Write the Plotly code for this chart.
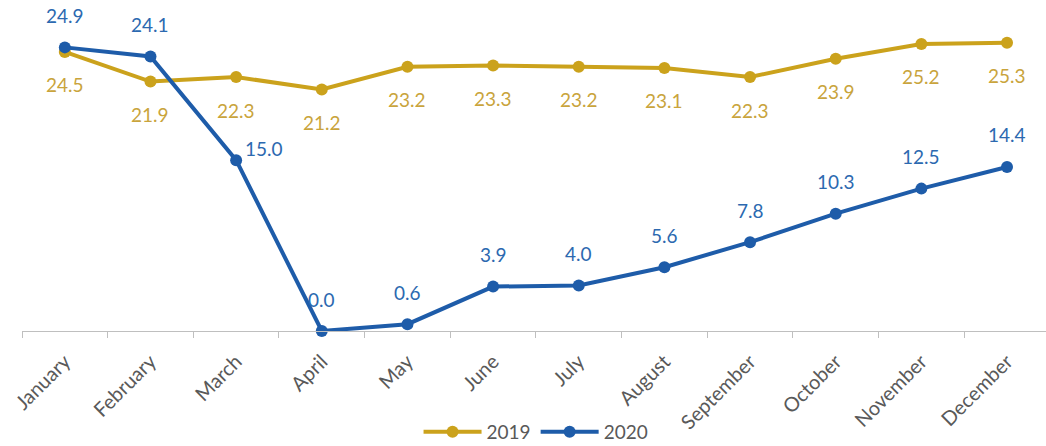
import plotly.graph_objects as go

months = ["January", "February", "March", "April", "May", "June", "July",
          "August", "September", "October", "November", "December"]
values_2019 = [24.5, 21.9, 22.3, 21.2, 23.2, 23.3, 23.2, 23.1, 22.3, 23.9, 25.2, 25.3]
values_2020 = [24.9, 24.1, 15.0, 0.0, 0.6, 3.9, 4.0, 5.6, 7.8, 10.3, 12.5, 14.4]

GOLD = "#CBA21C"
BLUE = "#1E5CA9"
GOLD_TXT = "#C9A43C"
BLUE_TXT = "#2C69B0"
FONT = "Lato"

fig = go.Figure()
fig.add_trace(go.Scatter(
    x=months, y=values_2019, name="2019", mode="lines+markers",
    line=dict(color=GOLD, width=4), marker=dict(size=12, color=GOLD),
    cliponaxis=False,
))
fig.add_trace(go.Scatter(
    x=months, y=values_2020, name="2020", mode="lines+markers",
    line=dict(color=BLUE, width=4), marker=dict(size=12, color=BLUE),
    cliponaxis=False,
))

# value labels: 2019 below its points, 2020 above
for i, (m, v) in enumerate(zip(months, values_2019)):
    fig.add_annotation(x=m, y=v, text=f"{v:.1f}", showarrow=False,
                       yshift=-33, font=dict(family=FONT, size=19, color=GOLD_TXT))
for i, (m, v) in enumerate(zip(months, values_2020)):
    dx, dy = (28, 12) if i == 2 else (0, 32)
    fig.add_annotation(x=m, y=v, text=f"{v:.1f}", showarrow=False,
                       xshift=dx, yshift=dy,
                       font=dict(family=FONT, size=19, color=BLUE_TXT))

fig.update_layout(
    width=1046, height=446,
    margin=dict(l=22, r=0, t=0, b=115, autoexpand=False),
    paper_bgcolor="white", plot_bgcolor="white",
    font=dict(family=FONT, color="#595959"),
    showlegend=True,
    legend=dict(orientation="h", x=0.502, y=-0.305, xanchor="center", yanchor="middle",
                font=dict(family=FONT, size=19, color="#595959"),
                itemwidth=58, bgcolor="rgba(0,0,0,0)"),
    xaxis=dict(
        type="category", range=[-0.5, 11.455], automargin=False,
        showline=True, linecolor="#BFBFBF", linewidth=1,
        ticks="outside", tickson="boundaries", ticklen=6, tickcolor="#BFBFBF",
        ticklabelstandoff=10,
        tickangle=-45, tickfont=dict(family=FONT, size=20, color="#595959"),
        showgrid=False, zeroline=False,
    ),
    yaxis=dict(range=[0, 29.06], visible=False, showgrid=False, zeroline=False,
               automargin=False),
)

fig.write_html("out.html")
